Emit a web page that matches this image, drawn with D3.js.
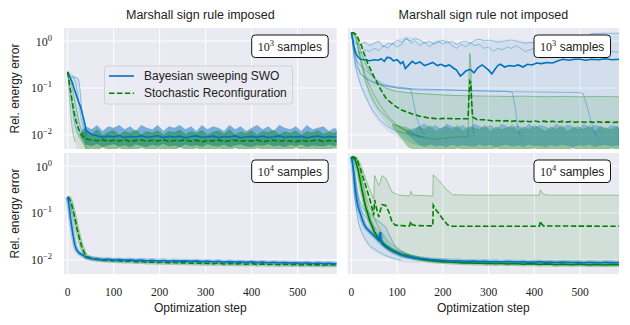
<!DOCTYPE html>
<html>
<head>
<meta charset="utf-8">
<script src="https://cdn.jsdelivr.net/npm/d3@7"></script>
<style>
body { margin: 0; background: #fff; }
</style>
</head>
<body>
<div id="chart"></div>
<script>
// ---- data ----
var colTitles = ["Marshall sign rule imposed", "Marshall sign rule not imposed"];
var sampleLabels = ["3", "3", "4", "4"];
var xTicks = [0, 100, 200, 300, 400, 500];
var yTicks = [1, 0.1, 0.01];
var yTickExp = ["0", "\u22121", "\u22122"];
var legendLabels = ["Bayesian sweeping SWO", "Stochastic Reconfiguration"];

// step grid for the noisy tails
var gridSteps = [40,52,64,76,88,100,112,124,136,148,160,172,184,196,208,220,232,244,256,268,
  280,292,304,316,328,340,352,364,376,388,400,412,424,436,448,460,472,484,496,508,
  520,532,544,556,568,580,585];

// top left: sign rule imposed, 10^3 samples
var tlBlueMeanHead = [[0,0.22],[5,0.17],[10,0.13],[15,0.09],[20,0.065],[24,0.05],[28,0.04],[32,0.028],[37,0.018]];
var tlBlueMeanTail = [0.0125,0.0102,0.0096,0.0089,0.0094,0.0091,0.0097,0.0088,0.0093,0.0090,
  0.0095,0.0089,0.0092,0.0096,0.0088,0.0093,0.0090,0.0094,0.0087,0.0092,
  0.0095,0.0089,0.0091,0.0094,0.0088,0.0092,0.0090,0.0095,0.0087,0.0091,
  0.0093,0.0089,0.0094,0.0088,0.0091,0.0095,0.0088,0.0092,0.0090,0.0093,
  0.0087,0.0091,0.0094,0.0089,0.0092,0.0090,0.0091];
var tlGreenMeanHead = [[0,0.22],[3,0.14],[6,0.09],[10,0.05],[14,0.03],[18,0.02],[22,0.015],[27,0.011],[33,0.009]];
var tlGreenMeanTail = [0.0082,0.0078,0.0075,0.0079,0.0073,0.0077,0.0074,0.0079,0.0072,0.0076,
  0.0078,0.0073,0.0077,0.0074,0.0079,0.0072,0.0076,0.0075,0.0078,0.0073,
  0.0077,0.0071,0.0076,0.0074,0.0078,0.0072,0.0075,0.0077,0.0073,0.0076,
  0.0074,0.0078,0.0071,0.0075,0.0077,0.0073,0.0076,0.0074,0.0072,0.0077,
  0.0073,0.0075,0.0078,0.0072,0.0076,0.0074,0.0075];
var tlBlueRuns = [
  [[0,0.22],[4,0.18],[8,0.17],[14,0.17],[20,0.165],[24,0.15],[27,0.09],[30,0.04],[34,0.018],[38,0.012],[42,0.01]],
  [[0,0.22],[5,0.1],[10,0.04],[15,0.018],[20,0.012],[25,0.009]],
  [[0,0.22],[6,0.2],[12,0.18],[18,0.12],[24,0.05],[30,0.02],[36,0.012]]
];
var tlGreenRuns = [
  [[0,0.22],[4,0.06],[8,0.02],[12,0.01],[16,0.007]],
  [[0,0.22],[6,0.15],[12,0.08],[18,0.04],[24,0.02],[30,0.012],[36,0.009]]
];
var tlBlueFillUp = [[0,0.22],[5,0.19],[10,0.18],[15,0.175],[20,0.17],[24,0.16],[27,0.1],[30,0.045],[34,0.02],[38,0.015],[42,0.014]];
var tlBlueFillLo = [[0,0.22],[5,0.08],[10,0.03],[15,0.015],[20,0.01],[25,0.008],[30,0.007],[42,0.006]];
var tlGreenFillUp = [[0,0.22],[5,0.13],[10,0.09],[15,0.06],[20,0.035],[25,0.02],[30,0.014],[42,0.012]];
var tlGreenFillLo = [[0,0.22],[4,0.08],[8,0.03],[12,0.012],[16,0.007],[20,0.005],[42,0.0048]];
var tlBlueNoiseHead = [[30,0.012],[30,0.011]];
var tlBlueNoiseHi = [0.015,0.013,0.016,0.012,0.015,0.014,0.016,0.013,0.015,0.012,
  0.016,0.014,0.013,0.016,0.012,0.015,0.014,0.016,0.013,0.015,
  0.012,0.016,0.013,0.015,0.014,0.012,0.016,0.013,0.015,0.012,
  0.014,0.016,0.013,0.015,0.012,0.016,0.014,0.013,0.015,0.012,
  0.016,0.013,0.014,0.015,0.012,0.014,0.013];
var tlBlueNoiseLo = [0.0062,0.0058,0.0065,0.0056,0.0060,0.0064,0.0057,0.0061,0.0055,0.0063,
  0.0059,0.0056,0.0062,0.0058,0.0065,0.0057,0.0060,0.0055,0.0063,0.0058,
  0.0061,0.0056,0.0064,0.0059,0.0057,0.0062,0.0055,0.0060,0.0063,0.0058,
  0.0056,0.0061,0.0059,0.0064,0.0057,0.0060,0.0055,0.0062,0.0058,0.0063,
  0.0056,0.0060,0.0059,0.0057,0.0062,0.0058,0.0060];
var tlGreenNoiseHead = [[26,0.011],[26,0.0095]];
var tlGreenNoiseHi = [0.0120,0.0105,0.0130,0.0098,0.0115,0.0125,0.0100,0.0120,0.0108,0.0128,
  0.0102,0.0118,0.0110,0.0125,0.0099,0.0120,0.0112,0.0128,0.0103,0.0118,
  0.0108,0.0125,0.0100,0.0115,0.0122,0.0105,0.0128,0.0101,0.0117,0.0109,
  0.0124,0.0099,0.0119,0.0113,0.0127,0.0102,0.0116,0.0108,0.0123,0.0100,
  0.0118,0.0111,0.0126,0.0103,0.0115,0.0109,0.0120];
var tlGreenNoiseLo = [0.0048,0.0052,0.0047,0.0055,0.0049,0.0046,0.0053,0.0048,0.0050,0.0047,
  0.0054,0.0049,0.0046,0.0052,0.0048,0.0051,0.0047,0.0055,0.0049,0.0046,
  0.0053,0.0048,0.0050,0.0047,0.0052,0.0049,0.0046,0.0054,0.0048,0.0050,
  0.0047,0.0053,0.0049,0.0046,0.0052,0.0048,0.0051,0.0047,0.0054,0.0049,
  0.0046,0.0052,0.0048,0.0050,0.0047,0.0053,0.0049];

// top right: sign rule not imposed, 10^3 samples
var trBlueMean = [[0,1.5],[3,1.1],[6,0.75],[9,0.56],[14,0.47],[20,0.41],[30,0.4],[40,0.38],[50,0.4],[59,0.39],
  [65,0.42],[72,0.37],[78,0.45],[85,0.44],[92,0.38],[100,0.4],[108,0.33],[113,0.36],[118,0.26],[124,0.3],
  [133,0.37],[140,0.33],[150,0.36],[160,0.3],[168,0.32],[178,0.35],[188,0.3],[196,0.32],[205,0.29],[214,0.31],
  [222,0.27],[230,0.24],[238,0.18],[244,0.2],[250,0.23],[260,0.25],[268,0.21],[276,0.27],[286,0.31],[292,0.28],
  [300,0.24],[307,0.2],[314,0.25],[320,0.3],[326,0.32],[335,0.28],[345,0.3],[355,0.29],[365,0.31],[375,0.28],
  [385,0.32],[395,0.31],[405,0.34],[415,0.33],[428,0.35],[440,0.34],[452,0.38],[463,0.41],[475,0.39],[488,0.41],
  [500,0.41],[512,0.39],[525,0.41],[540,0.4],[555,0.42],[570,0.4],[585,0.41]];
var trGreenMean = [[0,1.5],[5,1.5],[10,1.4],[14,1.2],[18,0.95],[22,0.8],[26,0.6],[31,0.45],[36,0.33],[42,0.25],
  [50,0.17],[60,0.11],[68,0.08],[75,0.062],[85,0.05],[96,0.041],[110,0.034],[120,0.031],[133,0.028],[150,0.025],
  [169,0.023],[190,0.022],[205,0.0225],[230,0.022],[255,0.022],[257,0.06],[259,0.14],[261,0.13],[263,0.05],[265,0.024],
  [275,0.021],[290,0.021],[300,0.0205],[310,0.0198],[320,0.0203],[330,0.0196],[340,0.0201],[350,0.0194],[360,0.02],[370,0.0192],
  [380,0.0198],[390,0.0191],[400,0.0197],[410,0.019],[420,0.0196],[430,0.0189],[440,0.0195],[450,0.0188],[460,0.0194],[470,0.0187],
  [480,0.0193],[490,0.0186],[500,0.0192],[510,0.0186],[520,0.0191],[530,0.0185],[540,0.019],[550,0.0184],[560,0.0189],[570,0.0184],[585,0.0187]];
var trBlueRuns = [
  [[0,1.5],[5,1.1],[10,0.9],[20,0.85],[30,0.95],[40,0.8],[50,0.9],[60,1.0],[70,0.75],[80,0.9],[90,0.85],[100,1.05],
   [110,0.95],[120,1.1],[130,1.0],[140,1.15],[150,1.05],[160,0.9],[170,1.0],[180,0.85],[190,0.95],[200,1.05],[210,0.9],
   [220,1.0],[230,0.85],[240,0.95],[250,1.0],[260,0.9],[270,1.05],[280,1.1],[290,1.0],[300,1.05],[320,0.95],[350,1.05],
   [380,0.9],[400,0.95],[430,1.05],[450,1.0],[480,0.95],[500,1.05],[515,1.2],[525,1.45],[550,1.47],[585,1.47]],
  [[0,1.5],[5,0.8],[10,0.6],[20,0.55],[30,0.65],[40,0.6],[50,0.7],[60,0.62],[70,0.8],[80,0.7],[90,0.9],[100,0.75],
   [110,0.85],[120,1.2],[130,0.9],[140,1.0],[150,0.8],[160,0.95],[170,0.75],[180,0.9],[190,1.0],[200,0.85],[210,1.0],
   [220,0.8],[230,0.7],[240,0.85],[250,0.75],[260,0.9],[270,0.8],[280,0.85],[290,0.7],[300,0.75],[310,0.6],[320,0.7],
   [330,0.65],[340,0.75],[350,0.7],[360,0.8],[370,0.7],[380,0.6],[390,0.65],[400,0.7],[420,0.6],[440,0.65],[460,0.55],
   [480,0.6],[500,0.55],[520,0.6],[540,0.55],[560,0.6],[585,0.58]],
  [[0,1.5],[4,0.9],[8,0.55],[14,0.35],[20,0.3],[30,0.25],[40,0.2],[55,0.15],[70,0.12],[85,0.11],[100,0.1],[120,0.095],
   [150,0.09],[200,0.09],[250,0.088],[300,0.087],[340,0.086],[352,0.08],[358,0.04],[363,0.016],[368,0.01],[375,0.009]],
  [[0,1.5],[5,0.7],[10,0.4],[20,0.2],[30,0.16],[40,0.14],[60,0.12],[80,0.11],[100,0.105],[120,0.1],[130,0.095],
   [136,0.05],[142,0.025],[150,0.014],[160,0.01]],
  [[0,1.5],[5,0.6],[10,0.3],[20,0.2],[35,0.16],[50,0.13],[70,0.11],[100,0.1],[150,0.095],[200,0.092],[300,0.085],
   [400,0.082],[500,0.08],[507,0.075],[515,0.04],[525,0.018],[533,0.01],[540,0.009]],
  [[0,1.5],[5,0.5],[10,0.25],[20,0.12],[30,0.07],[45,0.035],[60,0.022],[80,0.015],[100,0.012],[130,0.01],[150,0.009]]
];
var trGreenRuns = [
  [[0,1.5],[10,1.3],[16,0.9],[22,0.55],[30,0.35],[40,0.22],[50,0.16],[60,0.13],[75,0.1],[96,0.086],[120,0.08],
   [150,0.076],[169,0.074],[200,0.071],[230,0.069],[260,0.068],[300,0.067],[340,0.066],[380,0.067],[420,0.065],
   [460,0.066],[500,0.065],[540,0.066],[585,0.065]],
  [[0,1.5],[5,1.45],[10,1.2],[15,0.7],[20,0.4],[25,0.25],[30,0.15],[40,0.08],[50,0.05],[60,0.035],[75,0.025],
   [90,0.018],[110,0.014],[130,0.011],[150,0.009],[180,0.008],[230,0.009],[255,0.009],[257,0.2],[259,0.55],
   [261,0.3],[263,0.05],[266,0.012],[270,0.009]],
  [[0,1.5],[8,1.3],[14,0.8],[20,0.45],[28,0.22],[38,0.12],[50,0.07],[65,0.04],[80,0.025],[100,0.016],[120,0.012],
   [140,0.01],[160,0.009]]
];
var trBlueFillUp = [[0,1.55],[10,0.95],[20,0.9],[30,0.98],[40,0.85],[60,1.02],[70,0.82],[90,0.92],[100,1.08],[120,1.22],
  [140,1.18],[160,0.97],[200,1.08],[230,0.9],[260,0.95],[280,1.12],[300,1.05],[350,1.08],[400,1.0],[450,1.05],
  [500,1.08],[515,1.22],[525,1.47],[585,1.48]];
var trBlueFillLo = [[0,1.5],[5,0.45],[10,0.22],[20,0.1],[30,0.06],[45,0.03],[60,0.018],[80,0.012],[100,0.009],
  [120,0.007],[150,0.006],[585,0.006]];
var trGreenFillUp = [[0,1.5],[10,1.35],[16,1.0],[22,0.6],[30,0.38],[40,0.24],[50,0.17],[60,0.135],[75,0.105],[96,0.088],
  [120,0.081],[169,0.075],[250,0.069],[256,0.069],[259,0.56],[262,0.3],[265,0.069],[300,0.066],[585,0.064]];
var trGreenFillLo = [[0,1.5],[8,1.1],[14,0.6],[20,0.3],[28,0.14],[38,0.07],[50,0.04],[65,0.025],[80,0.016],[100,0.011],
  [120,0.008],[140,0.006],[160,0.0055],[200,0.0048],[585,0.0048]];
var trGreenNoiseHead = [[90,0.017],[90,0.015]];
var trGreenNoiseHi = [0.014,0.012,0.015,0.013,0.016,0.012,0.014,0.015,0.013,0.016,
  0.012,0.015,0.014,0.013,0.016,0.012,0.015,0.013,0.014,0.016,
  0.012,0.015,0.013,0.016,0.014,0.012,0.015,0.013,0.016,0.012,
  0.014,0.015,0.013,0.016,0.012,0.015,0.014,0.013,0.015,0.014];
var trGreenNoiseLo = [0.0055,0.0049,0.0047,0.0052,0.0048,0.0046,0.0051,0.0048,0.0047,0.0053,
  0.0049,0.0046,0.0052,0.0048,0.0050,0.0047,0.0054,0.0049,0.0046,0.0052,
  0.0048,0.0050,0.0047,0.0053,0.0049,0.0046,0.0052,0.0048,0.0051,0.0047,
  0.0054,0.0049,0.0046,0.0052,0.0048,0.0050,0.0047,0.0053,0.0049,0.0048];
var trBlueNoiseHead = [[120,0.012],[120,0.011]];
var trBlueNoiseHi = [0.015,0.017,0.014,0.016,0.013,0.017,0.015,0.014,0.016,0.013,
  0.017,0.015,0.014,0.016,0.013,0.017,0.015,0.014,0.016,0.013,
  0.017,0.014,0.016,0.015,0.013,0.017,0.014,0.016,0.015,0.013,
  0.017,0.014,0.016,0.015,0.013,0.016,0.015,0.014];
var trBlueNoiseLo = [0.0062,0.0056,0.0064,0.0058,0.0060,0.0055,0.0063,0.0057,0.0061,0.0059,
  0.0056,0.0064,0.0058,0.0062,0.0055,0.0060,0.0063,0.0057,0.0061,0.0056,
  0.0064,0.0058,0.0060,0.0055,0.0062,0.0057,0.0063,0.0059,0.0056,0.0061,
  0.0058,0.0064,0.0055,0.0060,0.0062,0.0057,0.0059,0.0060];

// bottom left: sign rule imposed, 10^4 samples
var blBlueMeanHead = [[0,0.22],[3,0.14],[6,0.08],[9,0.05],[12,0.032],[16,0.02],[20,0.016],[25,0.014],[30,0.013],[35,0.0122]];
var blBlueMeanTail = [0.0112,0.0106,0.0104,0.0101,0.0103,0.0099,0.0101,0.0098,0.0100,0.0097,
  0.0099,0.0096,0.0098,0.0095,0.0097,0.0094,0.0096,0.0094,0.0095,0.0093,
  0.0095,0.0092,0.0094,0.0091,0.0093,0.0090,0.0092,0.0090,0.0091,0.0089,
  0.0091,0.0088,0.0090,0.0087,0.0089,0.0087,0.0088,0.0086,0.0087,0.0085,
  0.0087,0.0084,0.0086,0.0084,0.0085,0.0083,0.0084];
var blGreenMeanHead = [[0,0.22],[4,0.2],[8,0.16],[12,0.11],[16,0.075],[20,0.048],[25,0.03],[30,0.02],[35,0.015]];
var blGreenMeanTail = [0.0118,0.0108,0.0102,0.0099,0.0097,0.0096,0.0095,0.0093,0.0094,0.0091,
  0.0092,0.0089,0.0090,0.0088,0.0089,0.0087,0.0088,0.0086,0.0087,0.0085,
  0.0086,0.0084,0.0085,0.0083,0.0085,0.0082,0.0084,0.0082,0.0083,0.0081,
  0.0083,0.0080,0.0082,0.0080,0.0081,0.0079,0.0081,0.0079,0.0080,0.0078,
  0.0080,0.0078,0.0079,0.0077,0.0079,0.0078,0.0078];

// bottom right: sign rule not imposed, 10^4 samples
var brBlueMeanHead = [[0,1.55],[2,1.3],[5,0.75],[9,0.28],[13,0.16],[16,0.123],[20,0.095],[23,0.076],[27,0.06],[31,0.05],
  [38,0.042],[45,0.036],[52,0.031],[60,0.026],[62,0.033],[63,0.039],[65,0.027],[67,0.022],[75,0.019],[82,0.017],
  [92,0.015],[104,0.0134],[118,0.012],[133,0.0113]];
var brBlueMeanTail = [0.0108,0.0105,0.0102,0.0100,0.0098,0.0097,0.0095,0.0096,0.0094,0.0093,
  0.0094,0.0092,0.0093,0.0091,0.0092,0.0090,0.0092,0.0091,0.0090,0.0091,
  0.0089,0.0090,0.0091,0.0089,0.0090,0.0088,0.0090,0.0089,0.0088,0.0089,
  0.0087,0.0089,0.0088,0.0087,0.0089,0.0088,0.0087,0.0088];
var brGreenMean = [[0,1.55],[6,1.55],[12,1.45],[16,1.1],[20,0.88],[25,0.6],[31,0.39],[36,0.27],[42,0.17],[46,0.12],
  [49,0.089],[50,0.14],[51,0.19],[53,0.15],[56,0.114],[60,0.082],[63,0.11],[67,0.15],[75,0.145],[82,0.105],
  [89,0.064],[96,0.055],[118,0.053],[127,0.053],[130,0.066],[133,0.056],[140,0.054],[178,0.053],[179,0.146],[184,0.12],
  [192,0.095],[199,0.076],[210,0.056],[221,0.052],[300,0.052],[411,0.052],[413,0.067],[416,0.058],[420,0.053],[585,0.052]];
var brGreenLowTail = [0.0105,0.0100,0.0097,0.0094,0.0092,0.0090,0.0089,0.0088,0.0086,0.0087,
  0.0085,0.0086,0.0084,0.0085,0.0083,0.0085,0.0082,0.0084,0.0083,0.0081,
  0.0083,0.0082,0.0080,0.0082,0.0081,0.0079,0.0081,0.0080,0.0079,0.0081,
  0.0080,0.0078,0.0080,0.0079,0.0078,0.0080,0.0079,0.0079];
var brBlueRuns = [
  [[0,1.55],[4,0.9],[8,0.45],[12,0.25],[16,0.17],[20,0.13],[25,0.1],[30,0.085],[38,0.07],[45,0.055],[55,0.045],
   [62,0.04],[70,0.03],[80,0.022],[95,0.016],[110,0.013],[130,0.011],[160,0.0098]],
  [[0,1.55],[2,1.1],[5,0.5],[8,0.2],[12,0.1],[16,0.06],[22,0.04],[30,0.028],[40,0.02],[55,0.016],[70,0.013],
   [90,0.011],[110,0.0098]],
  [[0,1.55],[4,1.0],[8,0.6],[12,0.35],[16,0.22],[20,0.16],[25,0.13],[30,0.11],[40,0.1],[55,0.07],[65,0.06],
   [75,0.05],[82,0.035],[95,0.02],[110,0.015],[130,0.012]]
];
var brGreenRuns = [
  [[0,1.55],[6,1.55],[12,1.5],[18,1.2],[25,0.8],[32,0.5],[40,0.32],[49,0.2],[50,0.45],[51,0.63],[55,0.5],[60,0.39],
   [63,0.45],[67,0.63],[75,0.55],[82,0.4],[89,0.28],[104,0.24],[127,0.23],[130,0.29],[135,0.24],[178,0.23],[179,0.65],
   [191,0.5],[206,0.33],[221,0.245],[260,0.24],[411,0.24],[413,0.31],[420,0.25],[430,0.24],[585,0.24]],
  [[0,1.55],[8,1.4],[15,0.8],[22,0.35],[30,0.15],[40,0.07],[50,0.04],[60,0.028],[75,0.02],[90,0.016],[110,0.013],
   [140,0.011],[150,0.0105]],
  [[0,1.55],[10,1.5],[18,0.9],[26,0.4],[35,0.18],[45,0.1],[55,0.06],[65,0.04],[80,0.025],[100,0.017],[125,0.013],
   [150,0.011]]
];
var brBlueFillUp = [[0,1.55],[4,1.0],[8,0.6],[12,0.38],[16,0.25],[20,0.18],[25,0.14],[30,0.12],[40,0.1],[55,0.075],
  [65,0.065],[75,0.055],[82,0.04],[95,0.022],[110,0.016],[130,0.013],[150,0.012]];
var brBlueFillLo = [[0,1.55],[2,1.0],[5,0.4],[8,0.16],[12,0.08],[16,0.05],[22,0.034],[30,0.024],[40,0.018],[55,0.014],
  [70,0.012],[90,0.01],[110,0.009],[150,0.0085]];
var brGreenFillUp = brGreenRuns[0];
var brGreenFillLo = [[0,1.55],[8,1.3],[15,0.7],[22,0.3],[30,0.12],[40,0.06],[50,0.035],[60,0.024],[75,0.017],[90,0.013],
  [110,0.011],[140,0.0095],[170,0.0085],[300,0.008],[585,0.0078]];

// ---- drawing ----
var blue = "#0072BD", green = "#008000";
var width = 630, height = 325;
var sans = "'Liberation Sans', Arial, sans-serif", serif = "'Liberation Serif', 'DejaVu Serif', serif";

var svg = d3.select("#chart").append("svg")
    .attr("width", width)
    .attr("height", height)
    .style("background", "#fff");

var cols = [{x: 64, w: 272.7}, {x: 347.7, w: 271.3}];
var rows = [{y: 28, h: 121}, {y: 153, h: 121}];

function onGrid(vals, start) {
  var i0 = gridSteps.indexOf(start);
  return vals.map(function(v, i) { return [gridSteps[i0 + i], v]; })
             .filter(function(d) { return d[0] !== undefined; });
}

function drawPanel(id, col, row, spec) {
  var c = cols[col], r = rows[row];
  var x = d3.scaleLinear().domain([-8, 585]).range([c.x, c.x + c.w]);
  var y = d3.scaleLog().domain([0.005, 1.9]).range([r.y + r.h, r.y]);
  var g = svg.append("g");

  g.append("rect")
      .attr("x", c.x).attr("y", r.y)
      .attr("width", c.w).attr("height", r.h)
      .attr("fill", "#EAEAF2");

  // grid
  g.selectAll(".vg").data(xTicks).enter().append("line")
      .attr("x1", function(d) { return x(d); }).attr("x2", function(d) { return x(d); })
      .attr("y1", r.y).attr("y2", r.y + r.h)
      .attr("stroke", "#fff").attr("stroke-width", 1);
  g.selectAll(".hg").data(yTicks).enter().append("line")
      .attr("x1", c.x).attr("x2", c.x + c.w)
      .attr("y1", function(d) { return y(d); }).attr("y2", function(d) { return y(d); })
      .attr("stroke", "#fff").attr("stroke-width", 1);

  svg.append("clipPath").attr("id", "clip" + id)
    .append("rect")
      .attr("x", c.x).attr("y", r.y)
      .attr("width", c.w).attr("height", r.h);

  var plot = g.append("g").attr("clip-path", "url(#clip" + id + ")");
  var line = d3.line().x(function(d) { return x(d[0]); }).y(function(d) { return y(d[1]); });

  function band(up, lo) {
    return line(up.concat(lo.slice().reverse())) + "Z";
  }

  (spec.fills || []).forEach(function(f) {
    plot.append("path").attr("d", band(f.up, f.lo))
        .attr("fill", f.color).attr("fill-opacity", 0.1).attr("stroke", "none");
  });
  (spec.runs || []).forEach(function(rn) {
    plot.append("path").attr("d", line(rn.data))
        .attr("fill", "none").attr("stroke", rn.color)
        .attr("stroke-opacity", 0.45).attr("stroke-width", 0.8);
  });
  (spec.noise || []).forEach(function(n) {
    plot.append("path").attr("d", band(n.hi, n.lo))
        .attr("fill", n.color).attr("fill-opacity", n.op)
        .attr("stroke", n.color).attr("stroke-opacity", 0.25).attr("stroke-width", 0.5);
  });
  (spec.means || []).forEach(function(m) {
    if (m.halo) {
      plot.append("path").attr("d", line(m.data))
          .attr("fill", "none").attr("stroke", m.color)
          .attr("stroke-opacity", 0.3).attr("stroke-width", 4.5);
    }
    plot.append("path").attr("d", line(m.data))
        .attr("fill", "none").attr("stroke", m.color)
        .attr("stroke-width", 1.6)
        .attr("stroke-dasharray", m.dash ? "5.5,2.4" : null);
  });

  // y tick labels only on the left column
  if (col === 0) {
    yTicks.forEach(function(t, i) {
      var tx = g.append("text")
          .attr("x", c.x - 12).attr("y", y(t) + 4.5)
          .attr("text-anchor", "end")
          .style("font-family", serif).style("font-size", "12px").attr("fill", "#222");
      tx.append("tspan").text("10");
      tx.append("tspan").attr("dy", -5).style("font-size", "8.5px").text(yTickExp[i]);
    });
    g.append("text")
        .attr("transform", "translate(15," + (r.y + r.h / 2) + ") rotate(-90)")
        .attr("text-anchor", "middle").attr("dominant-baseline", "central")
        .style("font-family", sans).style("font-size", "12px").attr("fill", "#222")
        .text("Rel. energy error");
  }
  // x tick labels only on the bottom row
  if (row === 1) {
    g.selectAll(".xl").data(xTicks).enter().append("text")
        .attr("x", function(d) { return x(d); }).attr("y", 296)
        .attr("text-anchor", "middle")
        .style("font-family", serif).style("font-size", "11.5px").attr("fill", "#222")
        .text(function(d) { return d; });
    g.append("text")
        .attr("x", c.x + c.w / 2).attr("y", 312)
        .attr("text-anchor", "middle")
        .style("font-family", sans).style("font-size", "12px").attr("fill", "#222")
        .text("Optimization step");
  }
  if (row === 0) {
    g.append("text")
        .attr("x", c.x + c.w / 2).attr("y", 19)
        .attr("text-anchor", "middle")
        .style("font-family", sans).style("font-size", "12.5px").attr("fill", "#222")
        .text(colTitles[col]);
  }

  // samples box
  var bx = c.x + c.w - 85, by = r.y + 7;
  g.append("rect")
      .attr("x", bx).attr("y", by).attr("width", 76.5).attr("height", 22.5)
      .attr("rx", 3.5).attr("fill", "#fff").attr("stroke", "#111").attr("stroke-width", 1);
  var st = g.append("text")
      .attr("x", bx + 38.2).attr("y", by + 15.5)
      .attr("text-anchor", "middle").attr("fill", "#222");
  st.append("tspan").style("font-family", serif).style("font-size", "12px").text("10");
  st.append("tspan").attr("dy", -5).style("font-family", serif).style("font-size", "8.5px").text(spec.exp);
  st.append("tspan").attr("dy", 5).style("font-family", sans).style("font-size", "12px").text(" samples");
}

function run(list, color) {
  return list.map(function(d) { return {data: d, color: color}; });
}

drawPanel("tl", 0, 0, {
  exp: sampleLabels[0],
  fills: [{up: tlBlueFillUp, lo: tlBlueFillLo, color: blue}, {up: tlGreenFillUp, lo: tlGreenFillLo, color: green}],
  runs: run(tlBlueRuns, blue).concat(run(tlGreenRuns, green)),
  noise: [
    {hi: [tlBlueNoiseHead[0]].concat(onGrid(tlBlueNoiseHi, 40)), lo: [tlBlueNoiseHead[1]].concat(onGrid(tlBlueNoiseLo, 40)), color: blue, op: 0.5},
    {hi: [tlGreenNoiseHead[0]].concat(onGrid(tlGreenNoiseHi, 40)), lo: [tlGreenNoiseHead[1]].concat(onGrid(tlGreenNoiseLo, 40)), color: green, op: 0.4}
  ],
  means: [
    {data: tlBlueMeanHead.concat(onGrid(tlBlueMeanTail, 40)), color: blue},
    {data: tlGreenMeanHead.concat(onGrid(tlGreenMeanTail, 40)), color: green, dash: true}
  ]
});

drawPanel("tr", 1, 0, {
  exp: sampleLabels[1],
  fills: [{up: trBlueFillUp, lo: trBlueFillLo, color: blue}, {up: trGreenFillUp, lo: trGreenFillLo, color: green}],
  runs: run(trBlueRuns, blue).concat(run(trGreenRuns, green)),
  noise: [
    {hi: [trGreenNoiseHead[0]].concat(onGrid(trGreenNoiseHi, 124)), lo: [trGreenNoiseHead[1]].concat(onGrid(trGreenNoiseLo, 124)), color: green, op: 0.3},
    {hi: [trBlueNoiseHead[0]].concat(onGrid(trBlueNoiseHi, 148)), lo: [trBlueNoiseHead[1]].concat(onGrid(trBlueNoiseLo, 148)), color: blue, op: 0.3}
  ],
  means: [
    {data: trBlueMean, color: blue},
    {data: trGreenMean, color: green, dash: true}
  ]
});

drawPanel("bl", 0, 1, {
  exp: sampleLabels[2],
  means: [
    {data: blGreenMeanHead.concat(onGrid(blGreenMeanTail, 40)), color: green, dash: true, halo: true},
    {data: blBlueMeanHead.concat(onGrid(blBlueMeanTail, 40)), color: blue, halo: true}
  ]
});

drawPanel("br", 1, 1, {
  exp: sampleLabels[3],
  fills: [{up: brBlueFillUp, lo: brBlueFillLo, color: blue}, {up: brGreenFillUp, lo: brGreenFillLo, color: green}],
  runs: run(brBlueRuns, blue).concat(run(brGreenRuns, green)),
  means: [
    {data: brGreenRuns[1].concat(onGrid(brGreenLowTail, 148)), color: green, halo: true},
    {data: brBlueMeanHead.concat(onGrid(brBlueMeanTail, 148)), color: blue, halo: true},
    {data: brGreenMean, color: green, dash: true}
  ]
});

// legend
var lg = svg.append("g");
lg.append("rect")
    .attr("x", 104.5).attr("y", 66).attr("width", 188).attr("height", 38)
    .attr("rx", 2.5).attr("fill", "#EAEAF2").attr("fill-opacity", 0.85)
    .attr("stroke", "#cccccc").attr("stroke-width", 0.8);
legendLabels.forEach(function(lbl, i) {
  var ly = 76 + i * 17.3;
  lg.append("line")
      .attr("x1", 109).attr("x2", 134).attr("y1", ly).attr("y2", ly)
      .attr("stroke", i === 0 ? blue : green).attr("stroke-width", 1.6)
      .attr("stroke-dasharray", i === 0 ? null : "5.5,2.4");
  lg.append("text")
      .attr("x", 144).attr("y", ly + 4)
      .style("font-family", sans).style("font-size", "12px").attr("fill", "#222")
      .text(lbl);
});
</script>
</body>
</html>
